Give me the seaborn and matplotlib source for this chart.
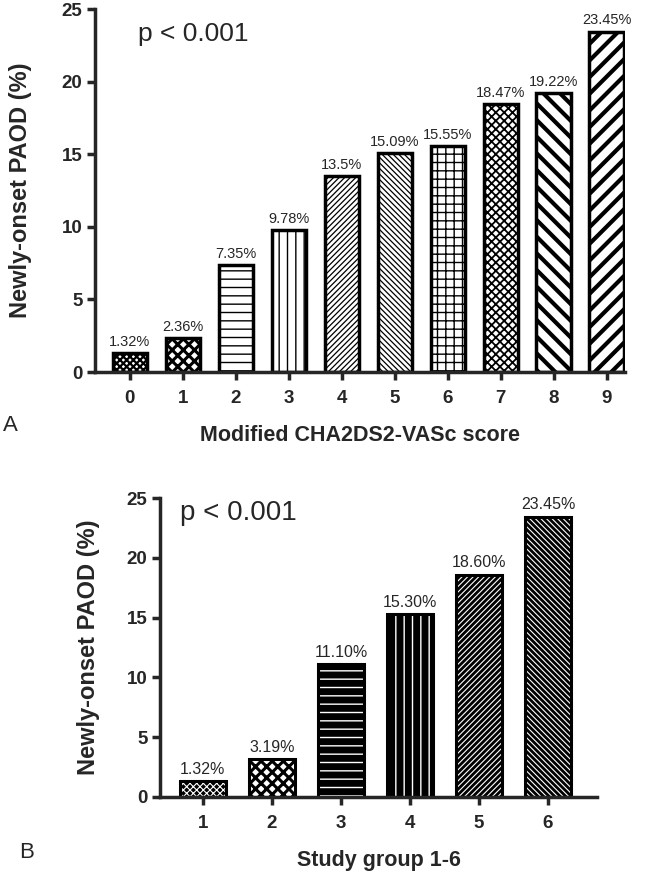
import matplotlib
matplotlib.use("Agg")
import matplotlib.pyplot as plt
import seaborn as sns
import pandas as pd

# ---------------- DATA ----------------
scores = ["0", "1", "2", "3", "4", "5", "6", "7", "8", "9"]
pct_scores = [1.32, 2.36, 7.35, 9.78, 13.5, 15.09, 15.55, 18.47, 19.22, 23.45]
labels_scores = ["1.32%", "2.36%", "7.35%", "9.78%", "13.5%", "15.09%", "15.55%", "18.47%", "19.22%", "23.45%"]

groups = ["1", "2", "3", "4", "5", "6"]
pct_groups = [1.32, 3.19, 11.10, 15.30, 18.60, 23.45]
labels_groups = ["1.32%", "3.19%", "11.10%", "15.30%", "18.60%", "23.45%"]

yticks = [0, 5, 10, 15, 20, 25]

# hatch style per bar: (pattern, hatch linewidth)
hatch_a = [("xxxxx", 1.6), ("xxx", 2.2), ("--", 1.0), ("||", 1.0), ("//////", 0.9),
           ("\\\\\\\\\\\\", 0.9), ("++", 1.0), ("xxxx", 1.3), ("\\\\", 3.0), ("//", 3.0)]
hatch_b = [("xxxxx", 0.8), ("xxx", 2.2), ("--", 1.0), ("||", 1.0), ("//////", 0.8),
           ("\\\\\\\\\\\\", 0.8)]

sns.set_style("ticks")
plt.rcParams["font.family"] = ["Liberation Sans", "DejaVu Sans"]

fig = plt.figure(figsize=(6.46, 8.76), dpi=100)
ax1 = fig.add_axes([0.147, 0.5753, 0.820, 0.4144])
ax2 = fig.add_axes([0.2477, 0.0902, 0.6765, 0.3413])


def style_axes(ax, xlabel, label_x):
    for side in ["top", "right"]:
        ax.spines[side].set_visible(False)
    for side in ["left", "bottom"]:
        ax.spines[side].set_linewidth(2.5)
    ax.set_ylim(0, 25)
    ax.set_yticks(yticks)
    ax.tick_params(axis="both", width=2.5, length=6, direction="out")
    ax.tick_params(axis="x", pad=7)
    ax.tick_params(axis="y", pad=3)
    for lab in ax.get_xticklabels() + ax.get_yticklabels():
        lab.set_fontweight("bold")
        lab.set_fontsize(13.5)
    ax.set_xlabel(xlabel, fontsize=15.5, fontweight="bold", labelpad=13)
    ax.set_ylabel("Newly-onset PAOD (%)", fontsize=17, fontweight="bold")
    ax.yaxis.set_label_coords(label_x, 0.5)


# ---------------- PANEL A ----------------
df_a = pd.DataFrame({"score": scores, "pct": pct_scores})
sns.barplot(data=df_a, x="score", y="pct", color="white", edgecolor="black",
            linewidth=2.5, width=0.65, saturation=1, ax=ax1)
for patch, (h, lw) in zip(ax1.patches, hatch_a):
    patch.set_hatch(h)
    if hasattr(patch, "set_hatch_linewidth"):
        patch.set_hatch_linewidth(lw)
ax1.bar_label(ax1.containers[0], labels=labels_scores, padding=3, fontsize=10.5)
ax1.set_xlim(-0.66, 9.34)
style_axes(ax1, "Modified CHA2DS2-VASc score", -0.118)
ax1.text(0.081, 0.93, "p < 0.001", transform=ax1.transAxes, fontsize=19, va="center")

# ---------------- PANEL B ----------------
df_b = pd.DataFrame({"group": groups, "pct": pct_groups})
# filled bars with white hatch lines
sns.barplot(data=df_b, x="group", y="pct", color="black", edgecolor="white",
            linewidth=0, width=0.67, saturation=1, ax=ax2)
for i, (patch, (h, lw)) in enumerate(zip(ax2.patches, hatch_b)):
    if i == 1:
        patch.set_facecolor("white")
        patch.set_edgecolor("black")
    patch.set_hatch(h)
    if hasattr(patch, "set_hatch_linewidth"):
        patch.set_hatch_linewidth(lw)
# black outlines on top
sns.barplot(data=df_b, x="group", y="pct", color="black", fill=False,
            linewidth=2.2, width=0.67, ax=ax2)
ax2.bar_label(ax2.containers[-1], labels=labels_groups, padding=3, fontsize=11.5)
ax2.set_xlim(-0.62, 5.71)
style_axes(ax2, "Study group 1-6", -0.137)
ax2.text(0.046, 0.95, "p < 0.001", transform=ax2.transAxes, fontsize=20, va="center")

# panel letters
fig.text(0.005, 0.514, "A", fontsize=16, va="center")
fig.text(0.03, 0.027, "B", fontsize=16, va="center")

fig.savefig("out.png", dpi=100)
